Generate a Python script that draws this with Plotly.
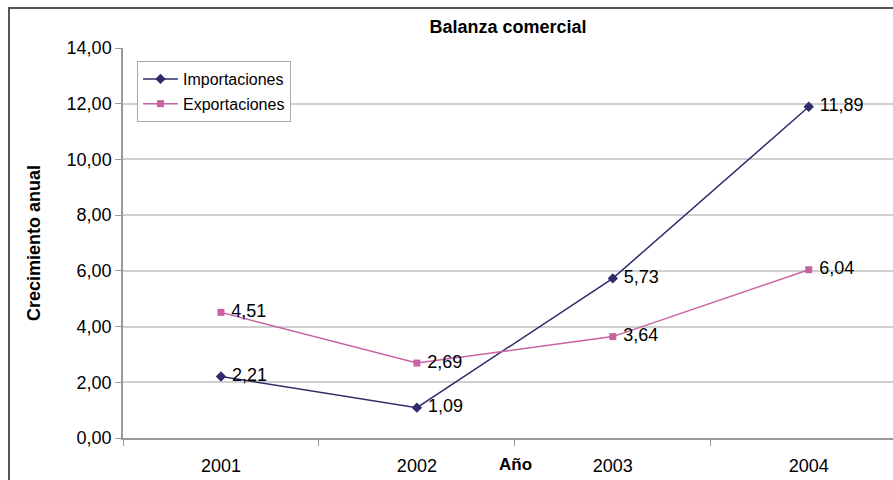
import plotly.graph_objects as go

years = ["2001", "2002", "2003", "2004"]
importaciones = [2.21, 1.09, 5.73, 11.89]
exportaciones = [4.51, 2.69, 3.64, 6.04]
y_ticks = [0, 2, 4, 6, 8, 10, 12, 14]

imp_color = "#2e2d6b"
exp_color = "#c862a3"
FONT = "Liberation Sans, Arial, sans-serif"

def fmt(v):
    return "\u00a0" + f"{v:.2f}".replace(".", ",")

fig = go.Figure()
fig.add_trace(go.Scatter(
    x=years, y=importaciones, name="Importaciones", legendgroup="imp",
    mode="lines+markers+text",
    line=dict(color=imp_color, width=1.5),
    marker=dict(symbol="diamond", size=8, color=imp_color),
    text=[fmt(v) for v in importaciones], textposition="middle right",
    textfont=dict(size=18, color="black", family=FONT),
    cliponaxis=False,
))
fig.add_trace(go.Scatter(
    x=years, y=exportaciones, name="Exportaciones", legendgroup="exp",
    mode="lines+markers+text",
    line=dict(color=exp_color, width=1.5),
    marker=dict(symbol="square", size=7, color=exp_color),
    text=[fmt(v) for v in exportaciones], textposition="middle right",
    textfont=dict(size=18, color="black", family=FONT),
    cliponaxis=False,
))

fig.update_layout(
    width=893, height=480,
    margin=dict(l=123, r=0, t=48, b=42, autoexpand=False),
    paper_bgcolor="white", plot_bgcolor="white",
    font=dict(family=FONT, color="black", size=18),
    separators=",.",
    showlegend=True,
    legend=dict(
        x=(137 - 123) / 770, y=(438 - 61) / 390, xanchor="left", yanchor="top",
        bgcolor="white", bordercolor="#aaaaaa", borderwidth=1,
        font=dict(size=16, family=FONT),
        tracegroupgap=1, itemwidth=35,
    ),
    title=dict(text="<b>Balanza comercial</b>", x=0.5, xanchor="center",
               xref="paper", y=1 - 27 / 480, yanchor="middle",
               font=dict(size=18, family=FONT)),
)

fig.update_xaxes(
    type="category", range=[-0.5, 3.43], automargin=False,
    tickson="boundaries", ticks="outside", ticklen=6, tickcolor="#999999",
    ticklabelstandoff=11,
    showline=True, linecolor="#999999", linewidth=1.5,
    showgrid=False, zeroline=False,
    tickfont=dict(size=18, family=FONT),
)
fig.update_yaxes(
    range=[0, 14], tickvals=y_ticks, tickformat=".2f", automargin=False,
    ticks="outside", ticklen=6, tickcolor="#999999",
    showline=True, linecolor="#999999", linewidth=1.5,
    showgrid=True, gridcolor="#cfcfcf", gridwidth=1.5,
    zeroline=False,
    tickfont=dict(size=18, family=FONT),
    title=dict(text="<b>Crecimiento anual</b>", font=dict(size=18, family=FONT), standoff=21),
)

# Axis title "Año" placed between 2002 and 2003 at tick label level
fig.add_annotation(text="<b>Año</b>", x=(515 - 123) / 770, xref="paper", y=0, yref="paper",
                   yshift=-26, yanchor="middle", showarrow=False,
                   font=dict(size=17, family=FONT))

# Outer chart border
fig.add_shape(type="rect", xref="paper", yref="paper",
              x0=(9 - 123) / 770, x1=1.02, y0=-0.2, y1=(438 - 8) / 390,
              line=dict(color="#555555", width=2), fillcolor="rgba(0,0,0,0)",
              layer="below")

fig.write_html("out.html", config={"displayModeBar": False},
               post_script="document.body.style.margin='0';document.body.style.overflow='hidden';")
